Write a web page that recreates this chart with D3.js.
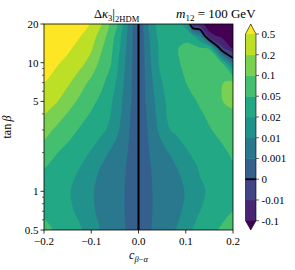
<!DOCTYPE html>
<html><head><meta charset="utf-8">
<script src="https://cdn.jsdelivr.net/npm/d3@7"></script>
<style>
body{margin:0;background:#fff}
svg{display:block}
</style>
</head><body>
<svg id="chart" width="295" height="270" font-family="'Liberation Serif', 'DejaVu Serif', serif"></svg>
<script>
// grid columns: c_{beta-alpha}
const cbeta = [-0.2,-0.175,-0.15,-0.125,-0.1,-0.08,-0.06,-0.045,-0.03,-0.015,0,0.015,0.03,0.045,0.06,0.08,0.1,0.115,0.13,0.15,0.175,0.2];
// grid rows: tan(beta)
const tanb = [0.5,0.7,1,1.5,2,3,4,5,7,10,13,16,20];
// Delta kappa_3, one row per tanb value
const dk3_t0p5 = [0.06,0.0473,0.0353,0.0236,0.0145,0.0091,0.00604,0.0037,0.00136,0.00055,0,0.00055,0.00145,0.00406,0.00667,0.0102,0.0161,0.0209,0.029,0.0401,0.056,0.0775];
const dk3_t0p7 = [0.0455,0.0362,0.0266,0.0181,0.0115,0.00802,0.00523,0.00316,0.00109,0.0005,0,0.00051,0.00109,0.00316,0.00523,0.00802,0.0116,0.0158,0.0199,0.0284,0.0389,0.0494];
const dk3_t1 = [0.0365,0.0299,0.023,0.0168,0.0109,0.00784,0.00514,0.00307,0.00109,0.00051,0,0.00051,0.00109,0.00298,0.00496,0.00757,0.0104,0.0143,0.0183,0.0236,0.0299,0.0365];
const dk3_t1p5 = [0.0494,0.0398,0.0299,0.0199,0.0139,0.00946,0.0064,0.00415,0.0019,0.00062,0,0.00062,0.0019,0.00415,0.0064,0.00946,0.0141,0.0178,0.0224,0.0305,0.0386,0.047];
const dk3_t2 = [0.0755,0.053,0.041,0.0299,0.0193,0.0141,0.0091,0.00604,0.00298,0.00075,0,0.00075,0.00298,0.00604,0.0091,0.0138,0.0188,0.0236,0.029,0.0359,0.0449,0.056];
const dk3_t3 = [0.135,0.0925,0.069,0.0476,0.0362,0.0272,0.018,0.0116,0.00559,0.00082,0,0.00081,0.0055,0.0118,0.0189,0.0257,0.032,0.0368,0.0416,0.0482,0.06,0.0725];
const dk3_t4 = [0.209,0.151,0.0965,0.071,0.047,0.0344,0.0218,0.014,0.00685,0.00089,0,0.00089,0.00685,0.0138,0.0209,0.029,0.035,0.041,0.047,0.0575,0.075,0.09];
const dk3_t5 = [0.323,0.23,0.144,0.09,0.063,0.0431,0.0254,0.0153,0.00784,0.00109,0,0.00109,0.00784,0.0153,0.023,0.032,0.0395,0.0461,0.055,0.07,0.0975,0.125];
const dk3_t7 = [0.494,0.374,0.248,0.147,0.087,0.0635,0.0377,0.0184,0.0092,0.00163,0,0.00172,0.00964,0.0185,0.0275,0.038,0.0497,0.0625,0.0725,0.0825,0.0975,0.12];
const dk3_t10 = [0.665,0.545,0.419,0.293,0.164,0.0875,0.056,0.0239,0.011,0.00208,0,0.00253,0.0124,0.023,0.0335,0.0455,0.06,0.0675,0.07,0.0675,0.0575,0.0015];
const dk3_t13 = [0.755,0.68,0.56,0.398,0.2375,0.116,0.0645,0.0329,0.0128,0.00253,0,0.00316,0.0139,0.0245,0.035,0.0476,0.062,0.062,0.0525,0.049,-0.007,-0.12];
const dk3_t16 = [0.8,0.725,0.635,0.515,0.32,0.161,0.0745,0.0389,0.014,0.00262,0,0.00388,0.0153,0.0275,0.0335,0.038,0.041,0.03,0.012,-0.073,-0.112,-0.19];
const dk3_t20 = [0.95,0.86,0.74,0.635,0.47,0.23,0.09,0.049,0.0154,0.0021,0,0.0046,0.0167,0.029,0.0335,0.032,0.016,-0.073,-0.078,-0.144,-0.208,-0.262];
const dk3 = [dk3_t0p5,dk3_t0p7,dk3_t1,dk3_t1p5,dk3_t2,dk3_t3,dk3_t4,dk3_t5,dk3_t7,dk3_t10,dk3_t13,dk3_t16,dk3_t20];

// contour levels and colour-bar labels
const levels = [-0.1,-0.01,0,0.001,0.01,0.02,0.05,0.1,0.2,0.5];
const levelLabels = ["-0.1","-0.01","0","0.001","0.01","0.02","0.05","0.1","0.2","0.5"];
const xTicks = [-0.2,-0.1,0,0.1,0.2];
const xTickLabels = ["\u22120.2","\u22120.1","0.0","0.1","0.2"];
const yTicks = [0.5,1,5,10,20];
const yTickLabels = ["0.5","1","5","10","20"];
const yMinorTicks = [0.6,0.7,0.8,0.9,2,3,4,6,7,8,9];

const FONT = "'Liberation Serif', 'DejaVu Serif', serif";
const svg = d3.select("#chart");
const X0 = 44, X1 = 233, Y0 = 24, Y1 = 230;
const x = d3.scaleLinear().domain([-0.2,0.2]).range([X0,X1]);
const y = d3.scaleLog().domain([0.5,20]).range([Y1,Y0]);

const nBands = levels.length + 1;
const colors = d3.range(nBands).map(i => d3.interpolateViridis(i/(nBands-1)));

// level-index scale (contours are traced in level-index space)
const lv = d3.scaleLinear().domain(levels).range(d3.range(levels.length));
const n = cbeta.length, m = tanb.length;
const grid = [];
for (let j = 0; j < m; j++) for (let i = 0; i < n; i++) grid.push(lv(dk3[j][i]));

const colIdx = d3.scaleLinear().domain(d3.range(n)).range(cbeta).clamp(true);
const rowIdx = d3.scaleLinear().domain(d3.range(m)).range(tanb.map(Math.log10)).clamp(true);
const toPx = p => [x(colIdx(p[0] - 0.5)), y(Math.pow(10, rowIdx(p[1] - 0.5)))];

const defs = svg.append("defs");
defs.append("clipPath").attr("id","plotclip").append("rect")
  .attr("x",X0).attr("y",Y0).attr("width",X1-X0).attr("height",Y1-Y0);

const plot = svg.append("g").attr("clip-path","url(#plotclip)");
plot.append("rect").attr("x",X0).attr("y",Y0).attr("width",X1-X0).attr("height",Y1-Y0).attr("fill",colors[0]);

const ringLine = d3.line().curve(d3.curveCatmullRomClosed.alpha(0.5));
const openLine = d3.line().curve(d3.curveCatmullRom.alpha(0.5));
function mpPath(coords){
  let s = "";
  coords.forEach(poly => poly.forEach(ring => {
    const pts = ring.slice(0, -1).map(toPx);
    s += ringLine(pts);
  }));
  return s;
}

const bands = d3.contours().size([n,m]).smooth(true).thresholds(d3.range(0, levels.length))(grid);
plot.selectAll("path.band").data(bands).join("path")
  .attr("class","band")
  .attr("d", d => mpPath(d.coordinates))
  .attr("fill", d => colors[d.value + 1])
  .attr("fill-rule","evenodd")
  .attr("stroke", d => colors[d.value + 1])
  .attr("stroke-width", 0.3);

// zero contour line (black), skipping the segments that lie on the grid border
const zeroIdx = lv(0);
const zc = d3.contours().size([n,m]).smooth(true).thresholds([zeroIdx])(grid)[0];
function onBorder(a,b){
  return (a[0] <= 0.5 && b[0] <= 0.5) || (a[0] >= n-0.5 && b[0] >= n-0.5) || (a[1] <= 0.5 && b[1] <= 0.5) || (a[1] >= m-0.5 && b[1] >= m-0.5);
}
let zs = "";
zc.coordinates.forEach(poly => poly.forEach(ring => {
  let seg = [];
  const flush = () => { if (seg.length > 1) zs += openLine(seg.map(toPx)); seg = []; };
  for (let k = 0; k < ring.length - 1; k++) {
    const a = ring[k], b = ring[k+1];
    if (onBorder(a,b)) { flush(); continue; }
    if (!seg.length) seg.push(a);
    seg.push(b);
  }
  flush();
}));
plot.append("path").attr("d", zs).attr("fill","none").attr("stroke","#000").attr("stroke-width",1.8).attr("stroke-linejoin","round");
// columns where the value is exactly zero all the way up form the vertical zero line
cbeta.forEach((c, i) => {
  if (dk3.every(row => row[i] === 0)) {
    plot.append("line").attr("x1",x(c)).attr("x2",x(c)).attr("y1",Y0).attr("y2",Y1)
      .attr("stroke","#000").attr("stroke-width",2);
  }
});

// frame
svg.append("rect").attr("x",X0).attr("y",Y0).attr("width",X1-X0).attr("height",Y1-Y0)
  .attr("fill","none").attr("stroke","#000").attr("stroke-width",0.8);

// x axis
const gx = svg.append("g");
xTicks.forEach((t,i) => {
  gx.append("line").attr("x1",x(t)).attr("x2",x(t)).attr("y1",Y1).attr("y2",Y1+3.5).attr("stroke","#000").attr("stroke-width",0.8);
  gx.append("text").attr("x",x(t)).attr("y",Y1+15).attr("text-anchor","middle").attr("font-size",11).text(xTickLabels[i]);
});
// y axis
const gy = svg.append("g");
yTicks.forEach((t,i) => {
  gy.append("line").attr("x1",X0-3.5).attr("x2",X0).attr("y1",y(t)).attr("y2",y(t)).attr("stroke","#000").attr("stroke-width",0.8);
  gy.append("text").attr("x",X0-5.5).attr("y",y(t)).attr("dy","0.36em").attr("text-anchor","end").attr("font-size",11).text(yTickLabels[i]);
});
yMinorTicks.forEach(t => {
  gy.append("line").attr("x1",X0-2).attr("x2",X0).attr("y1",y(t)).attr("y2",y(t)).attr("stroke","#000").attr("stroke-width",0.6);
});

// axis labels
const xl = svg.append("text").attr("x",x(0)).attr("y",259).attr("text-anchor","middle").attr("font-size",12);
xl.append("tspan").attr("font-style","italic").text("c");
xl.append("tspan").attr("font-size",8.5).attr("dy",2.5).attr("font-style","italic").text("\u03B2");
xl.append("tspan").attr("font-size",8.5).text("\u2212");
xl.append("tspan").attr("font-size",8.5).attr("font-style","italic").text("\u03B1");

const yl = svg.append("text").attr("transform",`translate(11,${(Y0+Y1)/2}) rotate(-90)`).attr("text-anchor","middle").attr("font-size",12);
yl.append("tspan").text("tan\u2009");
yl.append("tspan").attr("font-style","italic").text("\u03B2");

// titles
const t1 = svg.append("text").attr("x",94).attr("y",18).attr("font-size",12.5);
t1.append("tspan").text("\u0394");
t1.append("tspan").attr("font-style","italic").text("\u03BA");
t1.append("tspan").attr("font-size",8.5).attr("dy",2.5).text("3");
t1.append("tspan").attr("dy",-1.5).attr("font-size",14).text("|");
t1.append("tspan").attr("font-size",8.5).attr("dy",2.5).text("2HDM");

const t2 = svg.append("text").attr("x",176).attr("y",18).attr("font-size",13);
t2.append("tspan").attr("font-style","italic").text("m");
t2.append("tspan").attr("font-size",9).attr("dy",2.5).text("12");
t2.append("tspan").attr("dy",-2.5).text(" = 100 GeV");

// colour bar
const CB0 = 245.5, CB1 = 256, CBtop = 24, CBbot = 230;
const cy = d3.scaleLinear().domain([0, levels.length-1]).range([220.7, 34]);
const cb = svg.append("g");
for (let i = 0; i < levels.length - 1; i++) {
  cb.append("rect").attr("x",CB0).attr("width",CB1-CB0)
    .attr("y",cy(i+1)).attr("height",cy(i)-cy(i+1)+0.4).attr("fill",colors[i+1]);
}
const mid = (CB0+CB1)/2;
cb.append("path").attr("d",`M${CB0},${cy(levels.length-1)}L${mid},${CBtop}L${CB1},${cy(levels.length-1)}Z`).attr("fill",colors[nBands-1]);
cb.append("path").attr("d",`M${CB0},${cy(0)}L${mid},${CBbot}L${CB1},${cy(0)}Z`).attr("fill",colors[0]);
cb.append("line").attr("x1",CB0).attr("x2",CB1).attr("y1",cy(zeroIdx)).attr("y2",cy(zeroIdx)).attr("stroke","#000").attr("stroke-width",1.8);
cb.append("path")
  .attr("d",`M${CB0},${cy(levels.length-1)}L${mid},${CBtop}L${CB1},${cy(levels.length-1)}L${CB1},${cy(0)}L${mid},${CBbot}L${CB0},${cy(0)}Z`)
  .attr("fill","none").attr("stroke","#000").attr("stroke-width",0.6);
levels.forEach((l,i) => {
  cb.append("line").attr("x1",CB1).attr("x2",CB1+3).attr("y1",cy(i)).attr("y2",cy(i)).attr("stroke","#000").attr("stroke-width",0.6);
  cb.append("text").attr("x",CB1+5.5).attr("y",cy(i)).attr("dy","0.36em").attr("font-size",11).text(levelLabels[i]);
});
svg.selectAll("text").attr("font-family", FONT);
</script>
</body></html>
